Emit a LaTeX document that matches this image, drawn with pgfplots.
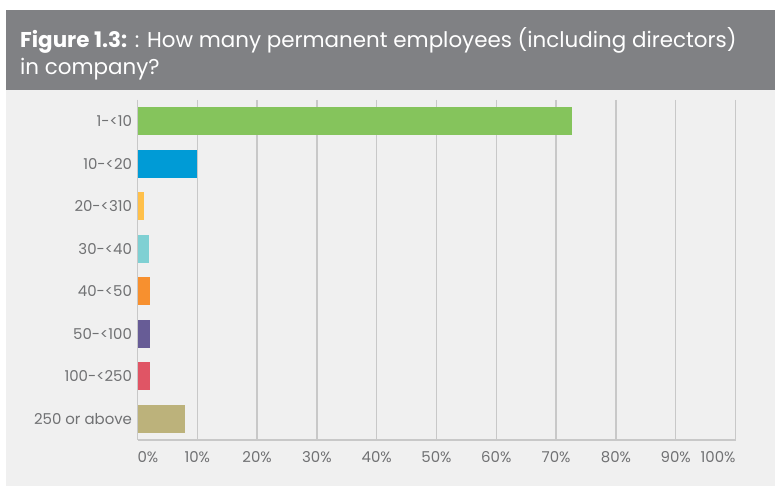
\documentclass[border=0pt]{standalone}
\usepackage{fontspec}
\setmainfont{Poppins}
\usepackage{pgfplots}
\pgfplotsset{compat=1.18}
\definecolor{panel}{HTML}{F0F0F0}
\definecolor{band}{HTML}{808184}
\definecolor{txt}{HTML}{707173}
\definecolor{gridc}{HTML}{C8C8C8}
\definecolor{c1}{HTML}{85C45C}
\definecolor{c2}{HTML}{009BD6}
\definecolor{c3}{HTML}{FFC04A}
\definecolor{c4}{HTML}{7FD0D3}
\definecolor{c5}{HTML}{F7902F}
\definecolor{c6}{HTML}{675C96}
\definecolor{c7}{HTML}{E05565}
\definecolor{c8}{HTML}{BCB27B}
\begin{document}
\begin{tikzpicture}[x=1bp,y=1bp]
\fill[white] (0,0) rectangle (775,486);
\fill[panel] (6,0) rectangle (775,396);
\fill[band] (6,396) rectangle (775,476);
\node[anchor=base west, inner sep=0pt, text=white, font=\fontsize{21.5}{25}\selectfont] at (20,438) {\textbf{Figure 1.3:} : How many permanent employees (including directors)};
\node[anchor=base west, inner sep=0pt, text=white, font=\fontsize{21.5}{25}\selectfont] at (20,411) {in company?};
\begin{axis}[
  at={(137.5bp,46bp)}, anchor=south west,
  scale only axis, width=598bp, height=340bp,
  xbar, bar shift=0pt, bar width=28bp,
  xmin=0, xmax=100, ymin=-0.5, ymax=7.5, y dir=reverse,
  ytick={0,...,7},
  yticklabels={1-<10,10-<20,20-<310,30-<40,40-<50,50-<100,100-<250,250 or above},
  xtick={0,10,...,100},
  xticklabels={\rlap{0\%},10\%,20\%,30\%,40\%,50\%,60\%,70\%,80\%,90\%,\llap{100\%}},
  axis x line*=bottom, axis y line*=left,
  axis line style={gridc, line width=1.3bp, -},
  xmajorgrids, major grid style={gridc, line width=1.3bp},
  major tick length=0pt,
  tick label style={text=txt, font=\fontsize{15}{17}\selectfont},
  xticklabel style={yshift=-8bp},
  yticklabel style={xshift=-2bp},
  /pgf/number format/assume math mode=true,
  axis background/.style={fill=panel},
]
\addplot[fill=c1, draw=none] coordinates {(72.7,0)};
\addplot[fill=c2, draw=none] coordinates {(10,1)};
\addplot[fill=c3, draw=none] coordinates {(1.1,2)};
\addplot[fill=c4, draw=none] coordinates {(1.9,3)};
\addplot[fill=c5, draw=none] coordinates {(2.1,4)};
\addplot[fill=c6, draw=none] coordinates {(2.1,5)};
\addplot[fill=c7, draw=none] coordinates {(2.1,6)};
\addplot[fill=c8, draw=none] coordinates {(7.9,7)};
\end{axis}
\end{tikzpicture}
\end{document}
